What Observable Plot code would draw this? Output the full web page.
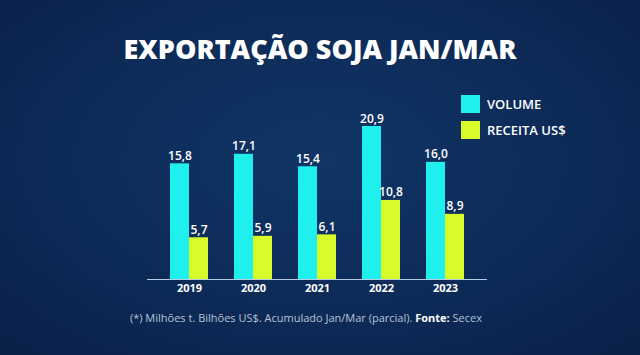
<!DOCTYPE html>
<html>
<head>
<meta charset="utf-8">
<script src="https://cdn.jsdelivr.net/npm/d3@7"></script>
<script src="https://cdn.jsdelivr.net/npm/@observablehq/plot@0.6"></script>
<style>
  html, body { margin: 0; padding: 0; background: #0b2248; }
  #wrap {
    position: relative; width: 640px; height: 355px; overflow: hidden;
    background: radial-gradient(ellipse 70% 75% at 50% 45%, #103566 0%, #0d2b58 55%, #0a2049 100%);
    font-family: "Open Sans", sans-serif; color: #fff;
  }
  #title {
    position: absolute; left: 0; width: 640px; top: 34px; text-align: center;
    font-family: "Open Sans", sans-serif; font-weight: 800; font-size: 24px; line-height: 30px;
    letter-spacing: 0px; white-space: nowrap;
  }
  #chart { position: absolute; left: 0; top: 0; }
  .leg { position: absolute; left: 461px; display: flex; align-items: center; font-size: 13px; font-weight: 600; }
  .leg span.sw { display: inline-block; width: 19px; height: 18px; margin-right: 7px; }
  #caption {
    position: absolute; left: 0; width: 612px; top: 310px; text-align: center;
    font-size: 11px; line-height: 15px; color: #b8c3d6; white-space: nowrap;
  }
  #caption b { color: #fff; font-weight: 700; }
</style>
</head>
<body>
<div id="wrap">
  <div id="chart"></div>
  <div id="title"></div>
  <div id="legend"></div>
  <div id="caption"></div>
</div>
<script>
const titleText = "EXPORTAÇÃO SOJA JAN/MAR";
const years = ["2019", "2020", "2021", "2022", "2023"];
const volume = [15.8, 17.1, 15.4, 20.9, 16.0];
const receita = [5.7, 5.9, 6.1, 10.8, 8.9];
const seriesNames = ["VOLUME", "RECEITA US$"];
const seriesColors = ["#1ff0ee", "#d9fa2b"];
const captionText = "(*) Milhões t. Bilhões US$. Acumulado Jan/Mar (parcial). ";
const sourceLabel = "Fonte:";
const sourceText = " Secex";

const fmt = v => v.toFixed(1).replace(".", ",");
const volData = years.map((y, i) => ({year: y, value: volume[i]}));
const recData = years.map((y, i) => ({year: y, value: receita[i]}));

document.getElementById("title").textContent = titleText;

const legend = document.getElementById("legend");
seriesNames.forEach((name, i) => {
  const d = document.createElement("div");
  d.className = "leg";
  d.style.top = (95 + i * 26) + "px";
  d.innerHTML = `<span class="sw" style="background:${seriesColors[i]}"></span><span>${name}</span>`;
  legend.appendChild(d);
});

const cap = document.getElementById("caption");
cap.append(captionText);
const b = document.createElement("b"); b.textContent = sourceLabel; cap.append(b);
cap.append(sourceText);

const half = 19;
const plot = Plot.plot({
  width: 640,
  height: 355,
  marginLeft: 147,
  marginRight: 153,
  marginTop: 126,
  marginBottom: 76,
  style: {background: "transparent", color: "#fff", fontFamily: "Open Sans, sans-serif", overflow: "visible"},
  x: {domain: years, paddingInner: 0.408, paddingOuter: 0.352, label: null},
  y: {domain: [0, d3.max(volume)], axis: null},
  marks: [
    Plot.barY(volData, {x: "year", y: "value", fill: seriesColors[0], insetRight: half}),
    Plot.barY(recData, {x: "year", y: "value", fill: seriesColors[1], insetLeft: half}),
    Plot.ruleY([0], {stroke: "#b5cbe6", strokeWidth: 1}),
    Plot.axisX({tickSize: 0, tickPadding: 5, fontSize: 11, fontWeight: 700, fill: "#fff", label: null}),
    Plot.text(volData, {x: "year", y: "value", text: d => fmt(d.value), dx: -half / 2, dy: -4, lineAnchor: "bottom", fill: "#fff", fontSize: 12, fontWeight: 600}),
    Plot.text(recData, {x: "year", y: "value", text: d => fmt(d.value), dx: half / 2, dy: -4, lineAnchor: "bottom", fill: "#fff", fontSize: 12, fontWeight: 600})
  ]
});
document.getElementById("chart").appendChild(plot);

// fit title width to reference (~393px)
const t = document.getElementById("title");
const r = document.createElement("span"); r.textContent = titleText; r.style.font = getComputedStyle(t).font;
r.style.fontWeight = "800"; r.style.visibility = "hidden"; r.style.position = "absolute";
document.body.appendChild(r);
const w = r.getBoundingClientRect().width;
if (w > 0) t.style.fontSize = (24 * 393 / w).toFixed(2) + "px";
r.remove();
</script>
</body>
</html>
